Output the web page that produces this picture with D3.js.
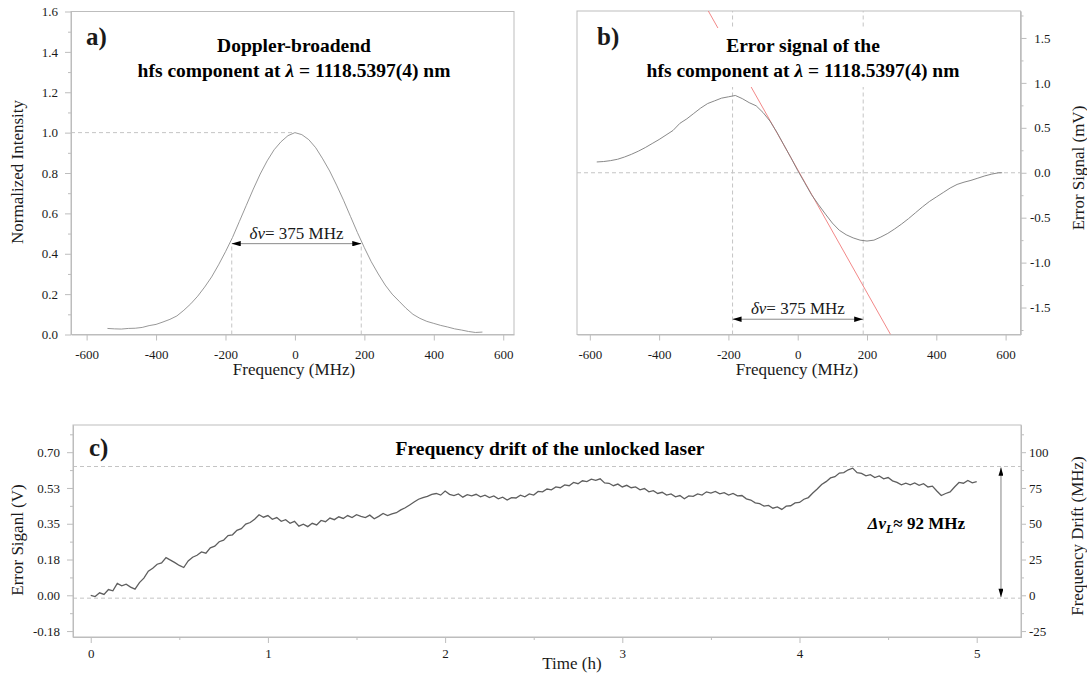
<!DOCTYPE html>
<html><head><meta charset="utf-8">
<script src="https://cdn.jsdelivr.net/npm/d3@7"></script>
<style>
body{margin:0;background:#fff;}
svg text{font-family:"Liberation Serif","Times New Roman",serif;}
</style></head><body>
<svg id="chart" width="1087" height="677"></svg>
<script>
// ---------- Panel a: Doppler-broadened line ----------
const freqA = [-540,-520,-500,-480,-460,-440,-420,-400,-380,-360,-340,-320,-300,-280,-260,-240,-220,-200,-180,-160,-140,-120,-100,-80,-60,-40,-20,0,20,40,60,80,100,120,140,160,180,200,220,240,260,280,300,320,340,360,380,400,420,440,460,480,500,520,540];
const intensityA = [0.030,0.028,0.027,0.030,0.031,0.035,0.044,0.050,0.062,0.075,0.092,0.120,0.152,0.190,0.235,0.285,0.345,0.410,0.480,0.560,0.640,0.720,0.795,0.860,0.915,0.955,0.985,1.000,0.990,0.965,0.925,0.870,0.810,0.740,0.665,0.585,0.505,0.430,0.360,0.300,0.245,0.200,0.165,0.130,0.100,0.080,0.065,0.055,0.045,0.037,0.028,0.022,0.015,0.010,0.012];
const xTicksA = [-600,-400,-200,0,200,400,600];
const yTicksA = [0,0.2,0.4,0.6,0.8,1.0,1.2,1.4,1.6];
const fwhmA = [-182, 191];
const fwhmLevelA = 0.45;

// ---------- Panel b: error signal ----------
const freqB = [-580,-560,-540,-520,-500,-480,-460,-440,-420,-400,-380,-360,-340,-320,-300,-280,-260,-240,-220,-200,-180,-160,-140,-120,-100,-80,-60,-40,-20,0,20,40,60,80,100,120,140,160,180,200,220,240,260,280,300,320,340,360,380,400,420,440,460,480,500,520,540,560,580,590];
const errorB = [0.12,0.125,0.135,0.15,0.175,0.205,0.24,0.28,0.325,0.37,0.42,0.47,0.55,0.60,0.66,0.72,0.77,0.80,0.83,0.845,0.86,0.825,0.78,0.745,0.67,0.575,0.45,0.31,0.17,0.025,-0.11,-0.245,-0.355,-0.46,-0.56,-0.64,-0.69,-0.725,-0.75,-0.76,-0.75,-0.715,-0.675,-0.625,-0.57,-0.51,-0.445,-0.38,-0.32,-0.27,-0.22,-0.17,-0.13,-0.105,-0.085,-0.06,-0.035,-0.015,0.0,0.0];
const tangentFreq = [-258, 268];
const tangentErr = [1.8, -1.8];
const xTicksB = [-600,-400,-200,0,200,400,600];
const yTicksB = [-1.5,-1.0,-0.5,0,0.5,1.0,1.5];
const fwhmB = [-188, 189];
const fwhmLevelB = -1.63;

// ---------- Panel c: frequency drift ----------
const sampleStepHours = 0.025;
const errorC = [0.000,-0.006,0.012,0.004,0.028,0.022,0.058,0.046,0.054,0.040,0.030,0.062,0.084,0.118,0.132,0.152,0.158,0.184,0.172,0.160,0.146,0.136,0.168,0.186,0.196,0.212,0.206,0.232,0.240,0.262,0.270,0.292,0.296,0.318,0.326,0.348,0.356,0.372,0.394,0.382,0.390,0.372,0.380,0.362,0.370,0.352,0.362,0.338,0.348,0.336,0.352,0.344,0.366,0.360,0.378,0.370,0.384,0.376,0.390,0.380,0.394,0.386,0.380,0.392,0.374,0.386,0.400,0.390,0.398,0.404,0.418,0.428,0.442,0.456,0.470,0.478,0.484,0.494,0.498,0.490,0.510,0.494,0.488,0.496,0.480,0.492,0.486,0.494,0.482,0.490,0.478,0.486,0.472,0.480,0.466,0.478,0.476,0.490,0.482,0.496,0.490,0.508,0.506,0.520,0.516,0.530,0.526,0.540,0.536,0.552,0.546,0.560,0.556,0.568,0.562,0.570,0.550,0.548,0.536,0.544,0.530,0.538,0.526,0.530,0.516,0.522,0.506,0.512,0.498,0.504,0.490,0.496,0.482,0.488,0.472,0.486,0.484,0.496,0.490,0.506,0.500,0.508,0.496,0.502,0.490,0.498,0.486,0.488,0.472,0.466,0.452,0.448,0.436,0.440,0.426,0.432,0.420,0.436,0.438,0.452,0.454,0.470,0.478,0.500,0.520,0.542,0.556,0.574,0.580,0.598,0.600,0.614,0.622,0.600,0.596,0.584,0.590,0.576,0.584,0.570,0.576,0.560,0.552,0.540,0.548,0.540,0.550,0.538,0.546,0.530,0.534,0.510,0.488,0.498,0.506,0.530,0.552,0.548,0.562,0.550,0.556];
const timeC = errorC.map((_, i) => i * sampleStepHours);
const xTicksC = [0,1,2,3,4,5];
const yTicksC = [-0.175,0,0.175,0.35,0.525,0.70];
const yTickLabelsC = ["-0.18","0.00","0.18","0.35","0.53","0.70"];
const yTicksCR = [-25,0,25,50,75,100];
const mhzPerVolt = 25 / 0.175;
const driftTopMHz = 90, driftBottomMHz = -2;
const arrowTimeC = 5.137;

// ---------- drawing ----------
const svg = d3.select("#chart");
const AX = "#bdbdbd", TXT = "#1a1a1a", DASH = "#c4c4c4";
const defs = svg.append("defs");
defs.append("marker").attr("id","ah").attr("viewBox","0 0 10 6")
  .attr("refX",10).attr("refY",3).attr("markerWidth",9).attr("markerHeight",5.5)
  .attr("markerUnits","userSpaceOnUse").attr("orient","auto-start-reverse")
  .append("path").attr("d","M0,0L10,3L0,6Z").attr("fill","#000");
defs.append("marker").attr("id","ahs").attr("viewBox","0 0 10 6")
  .attr("refX",10).attr("refY",3).attr("markerWidth",9).attr("markerHeight",5)
  .attr("markerUnits","userSpaceOnUse").attr("orient","auto-start-reverse")
  .append("path").attr("d","M0,0L10,3L0,6Z").attr("fill","#000");

function styleAxis(g, size){
  g.select(".domain").attr("stroke", AX);
  g.selectAll(".tick line").attr("stroke", AX);
  g.selectAll(".tick text").attr("fill", TXT).style("font-size", (size||13)+"px")
    .style("font-family", '"Liberation Serif","Times New Roman",serif');
}
function frame(x0,x1,y0,y1){
  svg.append("rect").attr("x",x0).attr("y",y1).attr("width",x1-x0).attr("height",y0-y1)
    .attr("fill","none").attr("stroke",AX).attr("stroke-width",1);
}
function dashed(x1,y1,x2,y2){
  svg.append("line").attr("x1",x1).attr("y1",y1).attr("x2",x2).attr("y2",y2)
    .attr("stroke",DASH).attr("stroke-width",1).attr("stroke-dasharray","4,3");
}
function label(txt,x,y,opts){
  opts = opts||{};
  const t = svg.append("text").attr("x",x).attr("y",y).attr("fill",TXT)
    .attr("text-anchor",opts.anchor||"middle").style("font-size",(opts.size||17)+"px");
  if(opts.weight) t.style("font-weight",opts.weight);
  if(opts.rotate) t.attr("transform",`rotate(${opts.rotate},${x},${y})`);
  t.text(txt); return t;
}
function titleLine(parts,x,y){
  const t = svg.append("text").attr("x",x).attr("y",y).attr("text-anchor","middle")
    .attr("fill","#000").style("font-size","19.5px").style("font-weight","bold");
  parts.forEach(p=>{ const s=t.append("tspan").text(p.t); if(p.i) s.style("font-style","italic"); });
  return t;
}
function widthArrow(x1,x2,y,text,ty){
  svg.append("line").attr("x1",x1).attr("x2",x2).attr("y1",y).attr("y2",y)
    .attr("stroke","#8a8a8a").attr("stroke-width",1)
    .attr("marker-start","url(#ah)").attr("marker-end","url(#ah)");
  const t = svg.append("text").attr("x",(x1+x2)/2).attr("y",ty).attr("text-anchor","middle")
    .attr("fill",TXT).style("font-size","17px");
  t.append("tspan").style("font-style","italic").text("δν");
  t.append("tspan").text("= 375 MHz");
}
const num = d => String(d);

// ===== Panel a =====
const xA = d3.scaleLinear([-645,631],[71,514]);
const yA = d3.scaleLinear([0,1.6],[334.5,11.5]);
frame(71,514,334.5,11.5);
dashed(xA.range()[0], yA(1), xA(0), yA(1));
fwhmA.forEach(f => dashed(xA(f), yA(0), xA(f), yA(fwhmLevelA)));
svg.append("path").datum(freqA.map((f,i)=>[f,intensityA[i]]))
  .attr("fill","none").attr("stroke","#8c8c8c").attr("stroke-width",0.9)
  .attr("d", d3.line().x(d=>xA(d[0])).y(d=>yA(d[1])));
widthArrow(xA(fwhmA[0]), xA(fwhmA[1]), yA(fwhmLevelA), "", 239);
styleAxis(svg.append("g").attr("transform","translate(0,334.5)")
  .call(d3.axisBottom(xA).tickValues(xTicksA).tickFormat(num).tickSize(6).tickSizeOuter(0).tickPadding(9)));
styleAxis(svg.append("g").attr("transform","translate(71,0)")
  .call(d3.axisLeft(yA).tickValues(yTicksA).tickFormat(d=>d.toFixed(1)).tickSize(6).tickSizeOuter(0).tickPadding(7)));
styleAxis(svg.append("g").attr("transform","translate(71,0)")
  .call(d3.axisLeft(yA).tickValues(yTicksA.slice(0,-1).map(v=>v+0.1)).tickFormat("").tickSize(3).tickSizeOuter(0)));
label("a)", 86, 45, {anchor:"start", size:25, weight:"bold"});
titleLine([{t:"Doppler-broadend"}], 294, 52);
titleLine([{t:"hfs component at "},{t:"λ",i:true},{t:"  = 1118.5397(4) nm"}], 294, 77);
label("Normalized Intensity", 23, 172, {rotate:-90});
label("Frequency (MHz)", 294, 375);

// ===== Panel b =====
const xB = d3.scaleLinear([-637,643],[577,1020.5]);
const yB = d3.scaleLinear([-1.8,1.8],[334.5,11]);
frame(577,1020.5,334.5,11);
dashed(577, yB(0), 1020.5, yB(0));
fwhmB.forEach(f => dashed(xB(f), yB.range()[0], xB(f), yB.range()[1]));
svg.append("line").attr("x1",xB(tangentFreq[0])).attr("y1",yB(tangentErr[0]))
  .attr("x2",xB(tangentFreq[1])).attr("y2",yB(tangentErr[1]))
  .attr("stroke","#f07a7a").attr("stroke-width",0.9);
svg.append("rect").attr("x",640).attr("y",28).attr("width",328).attr("height",59).attr("fill","#fff");
svg.append("path").datum(freqB.map((f,i)=>[f,errorB[i]]))
  .attr("fill","none").attr("stroke","#7a7a7a").attr("stroke-width",0.9)
  .attr("d", d3.line().x(d=>xB(d[0])).y(d=>yB(d[1])));
widthArrow(xB(fwhmB[0]), xB(fwhmB[1]), yB(fwhmLevelB), "", 313.5);
styleAxis(svg.append("g").attr("transform","translate(0,334.5)")
  .call(d3.axisBottom(xB).tickValues(xTicksB).tickFormat(num).tickSize(6).tickSizeOuter(0).tickPadding(9)));
const gbr = svg.append("g").attr("transform","translate(1020.5,0)")
  .call(d3.axisRight(yB).tickValues(yTicksB).tickFormat(d=>d.toFixed(1)).tickSize(6).tickSizeOuter(0).tickPadding(7));
styleAxis(gbr);
gbr.selectAll(".tick text").attr("text-anchor","end").attr("x",30);
styleAxis(svg.append("g").attr("transform","translate(1020.5,0)")
  .call(d3.axisRight(yB).tickValues([-1.75,-1.25,-0.75,-0.25,0.25,0.75,1.25,1.75]).tickFormat("").tickSize(3).tickSizeOuter(0)));
label("b)", 597, 45, {anchor:"start", size:25, weight:"bold"});
titleLine([{t:"Error signal of the"}], 803, 52);
titleLine([{t:"hfs component at "},{t:"λ",i:true},{t:"  = 1118.5397(4) nm"}], 803, 77);
label("Error Signal (mV)", 1084, 168, {rotate:-90});
label("Frequency (MHz)", 797, 375);

// ===== Panel c =====
const xC = d3.scaleLinear([-0.1,5.25],[73,1021]);
const yC = d3.scaleLinear([-0.204,0.833],[637,425]);
const yCR = d3.scaleLinear([-0.204*mhzPerVolt,0.833*mhzPerVolt],[637,425]);
frame(73,1021,637,425);
dashed(73, yCR(driftTopMHz), 1021, yCR(driftTopMHz));
dashed(73, yCR(driftBottomMHz), 1021, yCR(driftBottomMHz));
svg.append("path").datum(timeC.map((t,i)=>[t,errorC[i]]))
  .attr("fill","none").attr("stroke","#5e5e5e").attr("stroke-width",1.3)
  .attr("d", d3.line().x(d=>xC(d[0])).y(d=>yC(d[1])));
svg.append("line").attr("x1",xC(arrowTimeC)).attr("x2",xC(arrowTimeC))
  .attr("y1",yCR(driftTopMHz)+1).attr("y2",yCR(driftBottomMHz)-1)
  .attr("stroke","#777").attr("stroke-width",0.9)
  .attr("marker-start","url(#ahs)").attr("marker-end","url(#ahs)");
styleAxis(svg.append("g").attr("transform","translate(0,637)")
  .call(d3.axisBottom(xC).tickValues(xTicksC).tickFormat(num).tickSize(6).tickSizeOuter(0).tickPadding(6)));
styleAxis(svg.append("g").attr("transform","translate(0,637)")
  .call(d3.axisBottom(xC).tickValues([0.5,1.5,2.5,3.5,4.5]).tickFormat("").tickSize(3).tickSizeOuter(0)));
styleAxis(svg.append("g").attr("transform","translate(73,0)")
  .call(d3.axisLeft(yC).tickValues(yTicksC).tickFormat((d,i)=>yTickLabelsC[i]).tickSize(6).tickSizeOuter(0).tickPadding(7)));
styleAxis(svg.append("g").attr("transform","translate(73,0)")
  .call(d3.axisLeft(yC).tickValues([-0.0875,0.0875,0.2625,0.4375,0.6125,0.7875]).tickFormat("").tickSize(3).tickSizeOuter(0)));
styleAxis(svg.append("g").attr("transform","translate(1021,0)")
  .call(d3.axisRight(yCR).tickValues(yTicksCR).tickFormat(num).tickSize(5).tickSizeOuter(0).tickPadding(3)));
styleAxis(svg.append("g").attr("transform","translate(1021,0)")
  .call(d3.axisRight(yCR).tickValues([-12.5,12.5,37.5,62.5,87.5,112.5]).tickFormat("").tickSize(3).tickSizeOuter(0)));
label("c)", 89, 456, {anchor:"start", size:25, weight:"bold"});
titleLine([{t:"Frequency drift of the unlocked laser"}], 550, 454.5);
label("Error Siganl (V)", 23, 540, {rotate:-90});
label("Frequency Drift (MHz)", 1083, 536, {rotate:-90});
label("Time (h)", 572, 669);
const dl = svg.append("text").attr("x",965).attr("y",529).attr("text-anchor","end")
  .attr("fill","#000").style("font-size","17px").style("font-weight","bold");
dl.append("tspan").style("font-style","italic").text("Δν");
dl.append("tspan").style("font-style","italic").style("font-size","12px").attr("dy",4).text("L");
dl.append("tspan").attr("dy",-4).text("≈ 92 MHz");
</script>
</body></html>
